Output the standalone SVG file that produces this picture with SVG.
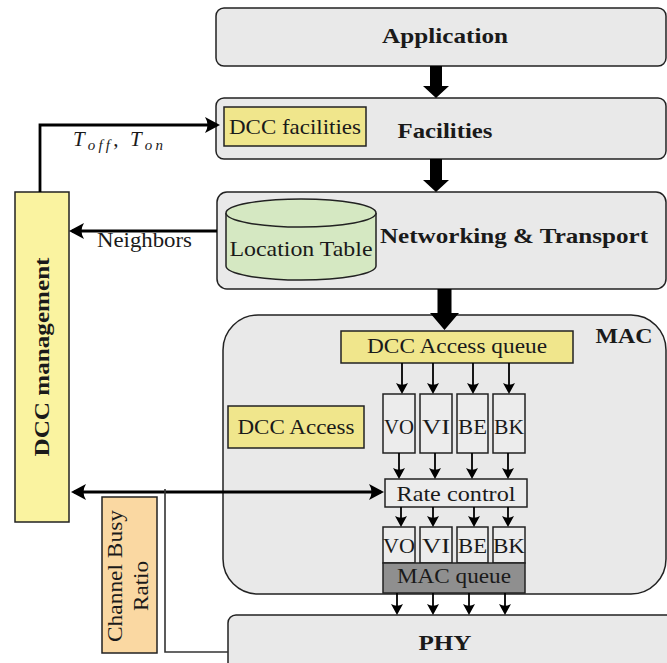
<svg xmlns="http://www.w3.org/2000/svg" width="667" height="663" viewBox="0 0 667 663" font-family="'Liberation Serif', 'Times New Roman', Times, 'DejaVu Serif', serif">
<style>
text{font-size:21px;fill:#1a1a1a}
.b{font-weight:bold}
.layer{fill:#e9e9e9;stroke:#222;stroke-width:1.5}
.khaki{fill:#f0e68c;stroke:#222;stroke-width:1.5}
.q{fill:#ececec;stroke:#222;stroke-width:1.5}
.thick{fill:none;stroke:#000;stroke-width:2.8}
.thin{fill:none;stroke:#000;stroke-width:1.8}
.blk{fill:#000}
</style>
<defs>
<marker id="big" markerUnits="userSpaceOnUse" viewBox="-16 -9 17 18" markerWidth="17" markerHeight="18" refX="-3" refY="0" orient="auto-start-reverse"><path d="M0,0 L-15,-8 Q-10,0 -15,8 Z" fill="#000"/></marker>
<marker id="sm" markerUnits="userSpaceOnUse" viewBox="-12 -7 13 14" markerWidth="13" markerHeight="14" refX="-3" refY="0" orient="auto"><path d="M0,0 L-11,-6 Q-7.5,0 -11,6 Z" fill="#000"/></marker>
</defs>

<g id="application">
<rect class="layer" x="216" y="8" width="450" height="58" rx="8"/>
<text class="b" x="445" y="43" text-anchor="middle" textLength="126" lengthAdjust="spacingAndGlyphs">Application</text>
</g>

<g id="facilities">
<rect class="layer" x="216" y="98" width="450" height="61" rx="8"/>
<text class="b" x="445" y="138" text-anchor="middle" textLength="95" lengthAdjust="spacingAndGlyphs">Facilities</text>
</g>
<g id="dcc-facilities">
<rect class="khaki" x="224" y="107" width="142" height="39"/>
<text x="295" y="134" text-anchor="middle" textLength="132" lengthAdjust="spacingAndGlyphs">DCC facilities</text>
</g>

<g id="networking">
<rect class="layer" x="217" y="192" width="449" height="97" rx="10"/>
<text class="b" x="514" y="243" text-anchor="middle" textLength="268" lengthAdjust="spacingAndGlyphs">Networking &amp; Transport</text>
</g>
<g id="location-table">
<path d="M226,213 V266 A75,14 0 0 0 376,266 V213" fill="#d5e8c2" stroke="#222" stroke-width="1.5"/>
<ellipse cx="301" cy="213" rx="75" ry="14" fill="#d5e8c2" stroke="#222" stroke-width="1.5"/>
<text x="301" y="256" text-anchor="middle" textLength="143" lengthAdjust="spacingAndGlyphs">Location Table</text>
</g>

<g id="mac">
<rect class="layer" x="223" y="315" width="443" height="279" rx="35"/>
<text class="b" x="624" y="343" text-anchor="middle" textLength="57" lengthAdjust="spacingAndGlyphs">MAC</text>
</g>
<g id="dcc-access-queue">
<rect class="khaki" x="341" y="331" width="232" height="32"/>
<text x="457" y="353" text-anchor="middle" textLength="180" lengthAdjust="spacingAndGlyphs">DCC Access queue</text>
</g>
<g id="dcc-access">
<rect class="khaki" x="228" y="406" width="136" height="42"/>
<text x="296" y="434" text-anchor="middle" textLength="117" lengthAdjust="spacingAndGlyphs">DCC Access</text>
</g>
<g id="q1-vo"><rect class="q" x="383" y="394" width="32" height="59"/><text x="399" y="434" text-anchor="middle" textLength="30" lengthAdjust="spacingAndGlyphs">VO</text></g>
<g id="q1-vi"><rect class="q" x="420" y="394" width="32" height="59"/><text x="436" y="434" text-anchor="middle" textLength="28" lengthAdjust="spacingAndGlyphs">VI</text></g>
<g id="q1-be"><rect class="q" x="457" y="394" width="31" height="59"/><text x="472.5" y="434" text-anchor="middle" textLength="29" lengthAdjust="spacingAndGlyphs">BE</text></g>
<g id="q1-bk"><rect class="q" x="493" y="394" width="32" height="59"/><text x="509" y="434" text-anchor="middle" textLength="30" lengthAdjust="spacingAndGlyphs">BK</text></g>

<g id="rate-control">
<rect class="q" x="385" y="479" width="142" height="28"/>
<text x="456" y="501" text-anchor="middle" textLength="119" lengthAdjust="spacingAndGlyphs">Rate control</text>
</g>
<g id="q2-vo"><rect class="q" x="383" y="527" width="32" height="36"/><text x="399" y="553" text-anchor="middle" textLength="32" lengthAdjust="spacingAndGlyphs">VO</text></g>
<g id="q2-vi"><rect class="q" x="420" y="527" width="32" height="36"/><text x="436" y="553" text-anchor="middle" textLength="28" lengthAdjust="spacingAndGlyphs">VI</text></g>
<g id="q2-be"><rect class="q" x="457" y="527" width="31" height="36"/><text x="472.5" y="553" text-anchor="middle" textLength="29" lengthAdjust="spacingAndGlyphs">BE</text></g>
<g id="q2-bk"><rect class="q" x="493" y="527" width="32" height="36"/><text x="509" y="553" text-anchor="middle" textLength="32" lengthAdjust="spacingAndGlyphs">BK</text></g>
<g id="mac-queue">
<rect x="383" y="563" width="142" height="30" fill="#8f8f8f" stroke="#222" stroke-width="1.5"/>
<text x="454" y="583" text-anchor="middle" textLength="114" lengthAdjust="spacingAndGlyphs">MAC queue</text>
</g>

<g id="phy">
<rect class="layer" x="228" y="615" width="450" height="60" rx="8"/>
<text class="b" x="445" y="650" text-anchor="middle" textLength="53" lengthAdjust="spacingAndGlyphs">PHY</text>
</g>

<g id="dcc-management">
<rect x="15" y="192" width="54" height="330" fill="#faf3a0" stroke="#222" stroke-width="1.5"/>
<text class="b" transform="translate(49,357) rotate(-90)" text-anchor="middle" textLength="199" lengthAdjust="spacingAndGlyphs">DCC management</text>
</g>

<g id="channel-busy-ratio">
<rect x="102" y="497" width="55" height="156" fill="#fad8a2" stroke="#222" stroke-width="1.5"/>
<text transform="translate(122,576) rotate(-90)" text-anchor="middle" textLength="132" lengthAdjust="spacingAndGlyphs">Channel Busy</text>
<text transform="translate(148,586) rotate(-90)" text-anchor="middle" textLength="50" lengthAdjust="spacingAndGlyphs">Ratio</text>
</g>

<g id="connectors">
<polygon class="blk" points="430,66 442,66 442,86 449,86 436,98 423,86 430,86"/>
<polygon class="blk" points="430,159 442,159 442,180 449,180 436,192 423,180 430,180"/>
<polygon class="blk" points="437.5,289 451.5,289 451.5,313 459,313 444.5,330 430,313 437.5,313"/>

<path class="thick" d="M40,192 V125 H217" marker-end="url(#big)"/>
<path class="thick" d="M217,231 H72" marker-end="url(#big)"/>
<path class="thick" d="M74,492 H381" marker-start="url(#big)" marker-end="url(#big)"/>
<path d="M165,489 V652 H228" fill="none" stroke="#333" stroke-width="1.6"/>

<path class="thin" d="M402,363 V391" marker-end="url(#sm)"/>
<path class="thin" d="M433,363 V391" marker-end="url(#sm)"/>
<path class="thin" d="M473,363 V391" marker-end="url(#sm)"/>
<path class="thin" d="M509,363 V391" marker-end="url(#sm)"/>

<path class="thin" d="M399,453 V476" marker-end="url(#sm)"/>
<path class="thin" d="M435,453 V476" marker-end="url(#sm)"/>
<path class="thin" d="M472,453 V476" marker-end="url(#sm)"/>
<path class="thin" d="M508,453 V476" marker-end="url(#sm)"/>

<path class="thin" d="M401,507 V524" marker-end="url(#sm)"/>
<path class="thin" d="M433,507 V524" marker-end="url(#sm)"/>
<path class="thin" d="M474,507 V524" marker-end="url(#sm)"/>
<path class="thin" d="M508,507 V524" marker-end="url(#sm)"/>

<path class="thin" d="M397,593 V612" marker-end="url(#sm)"/>
<path class="thin" d="M433,593 V612" marker-end="url(#sm)"/>
<path class="thin" d="M469,593 V612" marker-end="url(#sm)"/>
<path class="thin" d="M505,593 V612" marker-end="url(#sm)"/>

<text x="73" y="146" font-style="italic" textLength="90" lengthAdjust="spacing">T<tspan font-size="15" dy="4">off</tspan><tspan dy="-4" font-style="normal">, </tspan>T<tspan font-size="15" dy="4">on</tspan></text>
<text x="97" y="247" textLength="95" lengthAdjust="spacingAndGlyphs">Neighbors</text>
</g>
</svg>
